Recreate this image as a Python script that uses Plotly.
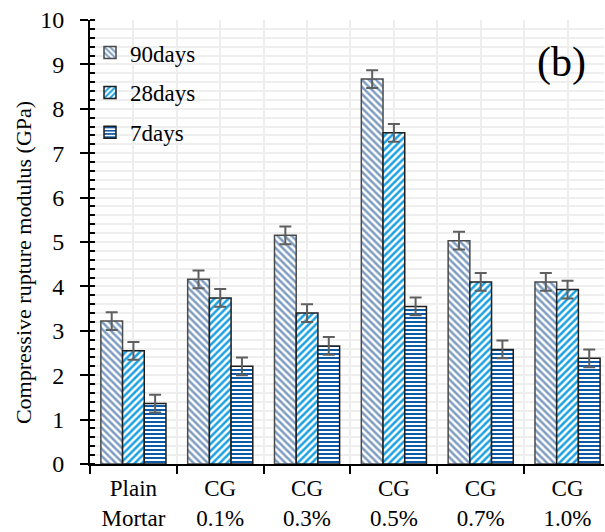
import plotly.graph_objects as go

categories = ["Plain<br>Mortar", "CG<br>0.1%", "CG<br>0.3%", "CG<br>0.5%", "CG<br>0.7%", "CG<br>1.0%"]
days90 = [3.22, 4.16, 5.15, 8.67, 5.03, 4.10]
days28 = [2.55, 3.74, 3.40, 7.46, 4.10, 3.93]
days7 = [1.36, 2.20, 2.66, 3.55, 2.58, 2.38]
err90 = [0.2, 0.2, 0.2, 0.2, 0.2, 0.2]
err28 = [0.2, 0.2, 0.2, 0.2, 0.2, 0.2]
err7 = [0.2, 0.2, 0.2, 0.2, 0.2, 0.2]

FONT = "Liberation Serif"
xpos = list(range(len(categories)))

series = [
    ("90days", days90, err90, "\\", "#7f9dc1", 5, "#4a4a4a"),
    ("28days", days28, err28, "/", "#1ba1e2", 5, "#1e1e1e"),
    ("7days", days7, err7, "-", "#0d5aa7", 4, "#1e1e1e"),
]

fig = go.Figure()
for name, vals, errs, shape, color, size, edge in series:
    fig.add_trace(go.Bar(
        x=xpos, y=vals, name=name, legendgroup=name,
        marker=dict(
            color="white",
            line=dict(color=edge, width=1.5),
            pattern=dict(shape=shape, fgcolor=color, bgcolor="white", fgopacity=1,
                         size=size, solidity=0.5, fillmode="overlay"),
        ),
        error_y=dict(type="data", array=errs, color="#5f5f5f",
                     thickness=2, width=6),
    ))

fig.update_layout(
    width=605, height=532,
    margin=dict(l=90, r=1, t=20, b=68),
    paper_bgcolor="white", plot_bgcolor="white",
    barmode="group", bargap=0.25, bargroupgap=0,
    font=dict(family=FONT, size=22, color="black"),
    legend=dict(x=0.0, y=0.975, xanchor="left", yanchor="top",
                bgcolor="rgba(0,0,0,0)", tracegroupgap=7,
                font=dict(family=FONT, size=23)),
    annotations=[
        dict(text="(b)", x=0.918, y=0.905, xref="paper", yref="paper",
             xanchor="center", yanchor="middle",
             showarrow=False, font=dict(family=FONT, size=42)),
        # vertical axis title
        dict(text="Compressive rupture modulus (GPa)", x=-0.128, y=0.453,
             xref="paper", yref="paper", xanchor="center", yanchor="middle",
             textangle=-90, showarrow=False, font=dict(family=FONT, size=22)),
    ],
)

fig.update_xaxes(
    range=[-0.5, 5.42], tickvals=xpos, ticktext=categories, automargin=False,
    ticks="", showgrid=True, gridcolor="#eeeeee", gridwidth=1.5,
    showline=True, linecolor="black", linewidth=2,
    tickfont=dict(family=FONT, size=23), ticklabelstandoff=2,
    minor=dict(tickvals=[k - 0.5 for k in range(len(categories) + 1)],
               ticks="outside", ticklen=8, tickcolor="black", tickwidth=2,
               showgrid=True, gridcolor="#eeeeee", gridwidth=1.5),
    zeroline=False,
)
fig.update_yaxes(
    range=[0, 10], dtick=1, ticks="outside", ticklen=8, tickwidth=2, tickcolor="black",
    showgrid=True, gridcolor="#eeeeee", gridwidth=1.5, automargin=False,
    showline=True, linecolor="black", linewidth=2, zeroline=False,
    tickfont=dict(family=FONT, size=24), ticklabelstandoff=11,
    minor=dict(dtick=0.2, ticks="inside", ticklen=5, tickwidth=1.5, tickcolor="black",
               showgrid=True, gridcolor="#eeeeee", gridwidth=1.5),
)

fig.write_html("out.html")
